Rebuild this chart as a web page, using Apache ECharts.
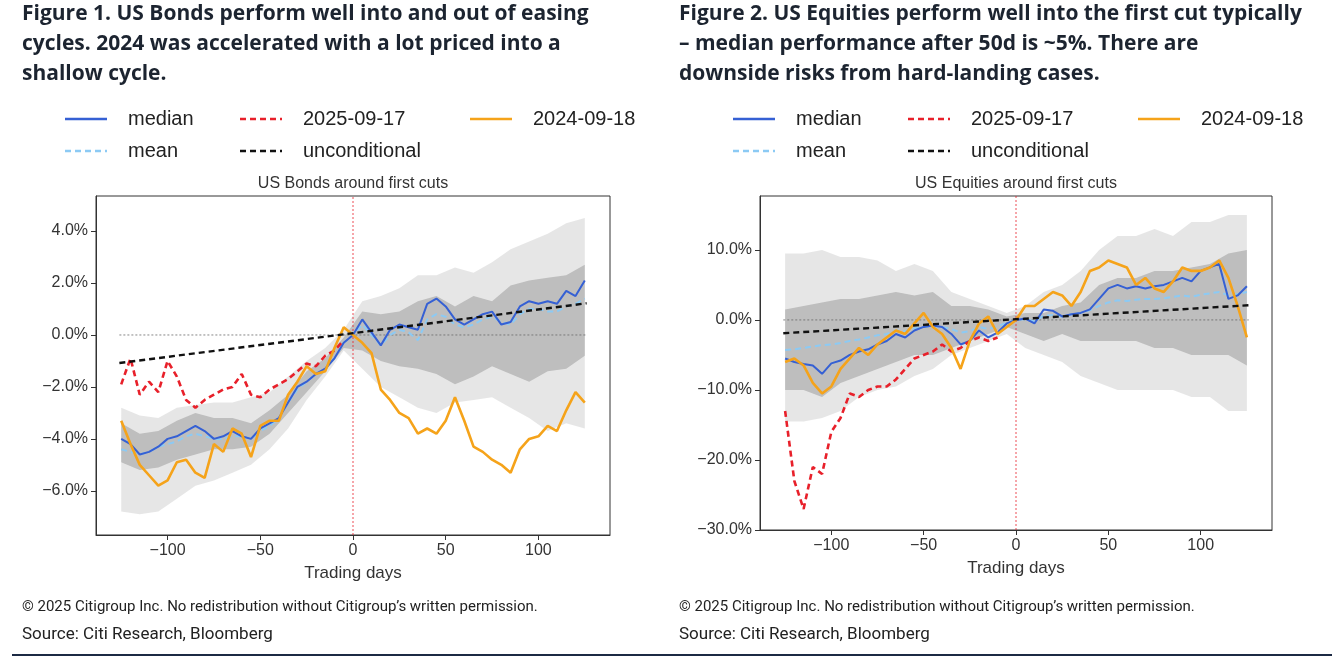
<!DOCTYPE html>
<html>
<head>
<meta charset="utf-8">
<script src="https://cdn.jsdelivr.net/npm/echarts@6/dist/echarts.min.js"></script>
<style>
  html, body { margin: 0; padding: 0; background: #fff; }
  #chart { width: 1344px; height: 660px; }
</style>
</head>
<body>
<div id="chart"></div>
<script>
// trading days for the lines (every 5th day) and for the bands (every 10th)
const days = [-125,-120,-115,-110,-105,-100,-95,-90,-85,-80,-75,-70,-65,-60,-55,-50,-45,-40,-35,-30,-25,-20,-15,-10,-5,0,
  5,10,15,20,25,30,35,40,45,50,55,60,65,70,75,80,85,90,95,100,105,110,115,120,125];
const bandDays = [-125,-115,-105,-95,-85,-75,-65,-55,-45,-35,-25,-15,-5,5,15,25,35,45,55,65,75,85,95,105,115,125];

// ---- US Bonds (%)
const bondMedian = [-4.0,-4.2,-4.6,-4.5,-4.3,-4.0,-3.9,-3.7,-3.5,-3.7,-4.0,-3.9,-3.7,-3.9,-4.0,-3.6,-3.4,-3.2,-2.6,-2.0,-1.8,-1.5,-1.3,-0.9,-0.3,0,
  0.6,0.1,-0.4,0.2,0.4,0.3,0.2,1.2,1.4,1.1,0.6,0.4,0.6,0.8,0.9,0.4,0.5,1.1,1.3,1.2,1.3,1.2,1.7,1.5,2.1];
const bondMean = [-4.4,-4.5,-4.6,-4.5,-4.3,-4.2,-4.1,-3.9,-3.8,-3.9,-4.0,-4.0,-3.9,-3.9,-4.0,-3.7,-3.5,-3.2,-2.6,-2.1,-1.8,-1.5,-1.3,-0.9,-0.3,0,
  0.4,0.0,-0.4,0.0,0.2,0.1,-0.2,0.6,0.8,0.7,0.4,0.3,0.4,0.6,0.7,0.5,0.4,0.8,1.0,1.0,0.9,0.9,1.1,1.2,1.4];
const bond2025 = [-1.9,-0.9,-2.3,-1.8,-2.2,-1.0,-1.6,-2.5,-2.8,-2.5,-2.3,-2.1,-2.0,-1.5,-2.3,-2.4,-2.1,-1.9,-1.7,-1.4,-1.1,-1.2,-0.8,-0.6,-0.2];
const bond2024 = [-3.3,-4.2,-5.0,-5.4,-5.8,-5.6,-4.9,-4.8,-5.3,-5.5,-4.2,-4.5,-3.6,-3.8,-4.7,-3.5,-3.3,-3.3,-2.3,-1.8,-1.2,-1.5,-1.4,-0.5,0.3,0,
  -0.3,-0.7,-2.1,-2.5,-3.0,-3.2,-3.8,-3.6,-3.8,-3.3,-2.4,-3.3,-4.3,-4.5,-4.8,-5.0,-5.3,-4.4,-4.0,-3.9,-3.5,-3.7,-2.9,-2.2,-2.6];
const bondUncond = [-1.08, 1.22];
const bondOuterLo = [-6.8,-6.9,-6.8,-6.3,-5.8,-5.6,-5.3,-5.0,-4.4,-3.6,-2.5,-1.6,-0.6,-1.3,-2.0,-2.4,-2.8,-3.0,-2.6,-2.5,-2.4,-2.8,-3.2,-3.7,-3.4,-3.6];
const bondOuterHi = [-2.8,-3.1,-3.2,-2.8,-2.7,-2.6,-2.6,-2.4,-2.2,-1.6,-1.0,-0.5,0.2,1.3,1.5,1.8,2.3,2.3,2.6,2.4,2.8,3.3,3.6,3.9,4.3,4.5];
const bondInnerLo = [-4.9,-5.2,-5.1,-4.8,-4.6,-4.4,-4.4,-4.3,-3.8,-3.0,-2.2,-1.4,-0.5,-0.6,-1.0,-1.2,-1.3,-1.5,-1.9,-1.6,-1.2,-1.5,-1.8,-1.4,-1.3,-0.8];
const bondInnerHi = [-3.4,-3.8,-3.7,-3.3,-3.0,-3.2,-3.2,-3.4,-2.9,-2.3,-1.4,-0.9,-0.1,0.9,0.8,0.9,1.3,1.5,1.1,1.5,1.3,1.9,2.1,2.2,2.3,2.7];

// ---- US Equities (%)
const eqMedian = [-5.5,-6.0,-6.3,-6.5,-7.7,-6.2,-5.8,-5.0,-4.5,-4.2,-3.5,-3.0,-2.0,-2.5,-1.5,-1.0,-0.8,-1.0,-2.0,-3.5,-3.0,-1.5,-2.5,-1.8,-0.5,0,
  0.2,-0.5,1.5,1.3,0.5,0.8,1.0,1.5,3.0,4.5,5.0,4.5,4.8,4.5,4.8,5.0,5.5,6.0,5.5,7.0,7.5,8.0,3.0,3.5,4.8];
const eqMean = [-4.3,-4.2,-4.0,-3.8,-3.6,-3.5,-3.3,-3.0,-2.8,-2.5,-2.2,-2.0,-1.5,-1.6,-1.2,-1.0,-0.9,-1.0,-1.3,-1.8,-1.6,-1.0,-1.3,-0.9,-0.4,0,
  0.1,-0.2,0.6,0.7,0.5,0.8,1.0,1.4,2.0,2.5,2.8,2.7,2.9,3.0,3.0,3.1,3.3,3.5,3.3,3.6,3.8,4.0,3.5,3.7,4.0];
const eq2025 = [-13,-23,-27,-21,-22,-16,-14,-10.5,-11,-10,-9.5,-9.5,-8.5,-7,-5.5,-5,-4.5,-3.5,-4.5,-4,-3,-2.5,-3,-2.5];
const eq2024 = [-6.0,-5.5,-6.5,-9.0,-10.5,-9.5,-7.0,-5.5,-4.0,-5.0,-3.5,-2.5,-1.5,-2.0,-0.5,1.0,-1.0,-2.0,-4.0,-7.0,-3.0,-0.5,0.5,-2.0,-1.0,0,
  2.0,2.0,3.0,4.0,3.5,2.0,4.0,7.0,7.5,8.5,8.0,7.5,5.0,6.0,4.5,4.0,5.5,7.5,7.0,7.0,7.5,8.5,6.0,2.0,-2.5];
const eqUncond = [-1.9, 2.1];
const eqOuterLo = [-14.5,-14.5,-14,-13,-11,-10,-9.5,-8,-7,-5,-4,-3,-2,-4,-5,-6,-8,-9,-10,-10,-10,-10,-11,-11,-13,-13];
const eqOuterHi = [9.5,9.5,10,9,9,8.5,7,8,7,4,3,2,1,2,4,5,7,10,12,12,13,12,14,14,15,15];
const eqInnerLo = [-10,-10,-11,-9,-8,-7,-6,-5,-5,-4,-3,-2,-1,-2,-3,-2,-3,-3,-3,-3,-4,-4,-5,-5,-5,-6.5];
const eqInnerHi = [1.5,2,2.5,3,3,3.5,4,3.5,4,2,2,1.5,0.5,1,1,2,2.5,5,6,6,7,7,7.5,8,9.5,10];

const pairs = (xs, ys) => ys.map((v, i) => [xs[i], v]);

function band(idx, lo, hi, fill) {
  return {
    type: 'custom', xAxisIndex: idx, yAxisIndex: idx, silent: true, z: 1,
    data: [[0, 0]],
    renderItem: (params, api) => {
      const pts = [];
      bandDays.forEach((d, i) => pts.push(api.coord([d, hi[i]])));
      for (let i = bandDays.length - 1; i >= 0; i--) pts.push(api.coord([bandDays[i], lo[i]]));
      return { type: 'polygon', shape: { points: pts }, style: { fill } };
    }
  };
}

function line(idx, data, color, dash, width, z) {
  return {
    type: 'line', xAxisIndex: idx, yAxisIndex: idx, data, showSymbol: false, silent: true,
    lineStyle: { color, width, type: dash || 'solid' }, z
  };
}

function panel(idx, d, ymin, ymax) {
  return [
    band(idx, d.outerLo, d.outerHi, 'rgba(200,200,200,0.45)'),
    band(idx, d.innerLo, d.innerHi, 'rgba(150,150,150,0.5)'),
    line(idx, [[-126, 0], [126, 0]], '#666', [2, 2], 0.8, 2),
    line(idx, [[0, ymin], [0, ymax]], '#e8202a', [2, 2], 0.8, 2),
    line(idx, pairs(days, d.median), '#3560d4', null, 2, 4),
    line(idx, pairs(days, d.mean), '#8ccaf4', [6, 4], 2, 3),
    line(idx, pairs(days, d.y2025), '#e8202a', [6, 4], 2.6, 5),
    line(idx, pairs(days, d.y2024), '#f5a31a', null, 2.6, 6),
    line(idx, [[-126, d.uncond[0]], [126, d.uncond[1]]], '#111', [6, 4], 2.4, 7)
  ];
}

const axisText = { color: '#333', fontSize: 16, fontFamily: 'Liberation Sans' };
function xAxis(idx) {
  return {
    type: 'value', gridIndex: idx, min: -138.6, max: 138.6,
    name: 'Trading days', nameLocation: 'middle', nameGap: 30,
    nameTextStyle: { color: '#333', fontSize: 17, fontFamily: 'Liberation Sans' },
    axisLine: { onZero: false, lineStyle: { color: '#333' } }, splitLine: { show: false },
    axisTick: { customValues: [-100, -50, 0, 50, 100], lineStyle: { color: '#333' } },
    axisLabel: Object.assign({ customValues: [-100, -50, 0, 50, 100], formatter: v => String(v).replace('-', '\u2212') }, axisText)
  };
}
function yAxis(idx, min, max, ticks) {
  return {
    type: 'value', gridIndex: idx, min, max,
    axisLine: { show: true, onZero: false, lineStyle: { color: '#333' } }, splitLine: { show: false },
    axisTick: { show: true, customValues: ticks, lineStyle: { color: '#333' } },
    axisLabel: Object.assign({ customValues: ticks, formatter: v => v.toFixed(1).replace('-', '\u2212') + '%' }, axisText)
  };
}

// legend drawn as graphic items (dashed/solid swatches)
function legend(x0) {
  const items = [
    [0, 0, 'median', '#3560d4', false],
    [175, 0, '2025-09-17', '#e8202a', true],
    [405, 0, '2024-09-18', '#f5a31a', false],
    [0, 32, 'mean', '#8ccaf4', true],
    [175, 32, 'unconditional', '#111', true]
  ];
  const g = [];
  items.forEach(([dx, dy, t, c, dash]) => {
    g.push({ type: 'line', shape: { x1: x0 + dx, y1: 119 + dy, x2: x0 + dx + 42, y2: 119 + dy },
      style: { stroke: c, lineWidth: 2.4, lineDash: dash ? [6, 4] : null } });
    g.push({ type: 'text', x: x0 + dx + 63, y: 119 + dy, style: { text: t, fill: '#222', font: '20px "Liberation Sans"', textVerticalAlign: 'middle' } });
  });
  return g;
}

const titleFont = 'bold 21px "Open Sans"';
const graphic = [
  { type: 'text', x: 22, y: -1, style: { text: 'Figure 1. US Bonds perform well into and out of easing\ncycles. 2024 was accelerated with a lot priced into a\nshallow cycle.', fill: '#1c2430', font: titleFont, lineHeight: 30 } },
  { type: 'text', x: 679, y: -1, style: { text: 'Figure 2. US Equities perform well into the first cut typically\n\u2013 median performance after 50d is ~5%. There are\ndownside risks from hard-landing cases.', fill: '#1c2430', font: titleFont, lineHeight: 30 } },
  { type: 'text', x: 353, y: 184, style: { text: 'US Bonds around first cuts', fill: '#333', font: '16px "Liberation Sans"', textAlign: 'center', textVerticalAlign: 'middle' } },
  { type: 'text', x: 1016, y: 184, style: { text: 'US Equities around first cuts', fill: '#333', font: '16px "Liberation Sans"', textAlign: 'center', textVerticalAlign: 'middle' } },
  { type: 'text', x: 22, y: 600, style: { text: '\u00a9 2025 Citigroup Inc. No redistribution without Citigroup\u2019s written permission.', fill: '#222', font: '15px Roboto' } },
  { type: 'text', x: 679, y: 600, style: { text: '\u00a9 2025 Citigroup Inc. No redistribution without Citigroup\u2019s written permission.', fill: '#222', font: '15px Roboto' } },
  { type: 'text', x: 22, y: 626, style: { text: 'Source: Citi Research, Bloomberg', fill: '#222', font: '17px Roboto' } },
  { type: 'text', x: 679, y: 626, style: { text: 'Source: Citi Research, Bloomberg', fill: '#222', font: '17px Roboto' } },
  { type: 'line', shape: { x1: 12, y1: 655, x2: 1332, y2: 655 }, style: { stroke: '#1c2a44', lineWidth: 2 } }
].concat(legend(65), legend(733));

const chart = echarts.init(document.getElementById('chart'));
chart.setOption({
  animation: false,
  grid: [
    { left: 96, top: 196, width: 514, height: 339, show: true, borderColor: '#333', borderWidth: 1 },
    { left: 760, top: 196, width: 512, height: 334, show: true, borderColor: '#333', borderWidth: 1 }
  ],
  xAxis: [xAxis(0), xAxis(1)],
  yAxis: [yAxis(0, -7.7, 5.35, [-6, -4, -2, 0, 2, 4]), yAxis(1, -30, 17.7, [-30, -20, -10, 0, 10])],
  graphic,
  series: [].concat(
    panel(0, { median: bondMedian, mean: bondMean, y2025: bond2025, y2024: bond2024, uncond: bondUncond,
      outerLo: bondOuterLo, outerHi: bondOuterHi, innerLo: bondInnerLo, innerHi: bondInnerHi }, -7.7, 5.35),
    panel(1, { median: eqMedian, mean: eqMean, y2025: eq2025, y2024: eq2024, uncond: eqUncond,
      outerLo: eqOuterLo, outerHi: eqOuterHi, innerLo: eqInnerLo, innerHi: eqInnerHi }, -30, 17.7)
  )
});
</script>
</body>
</html>
